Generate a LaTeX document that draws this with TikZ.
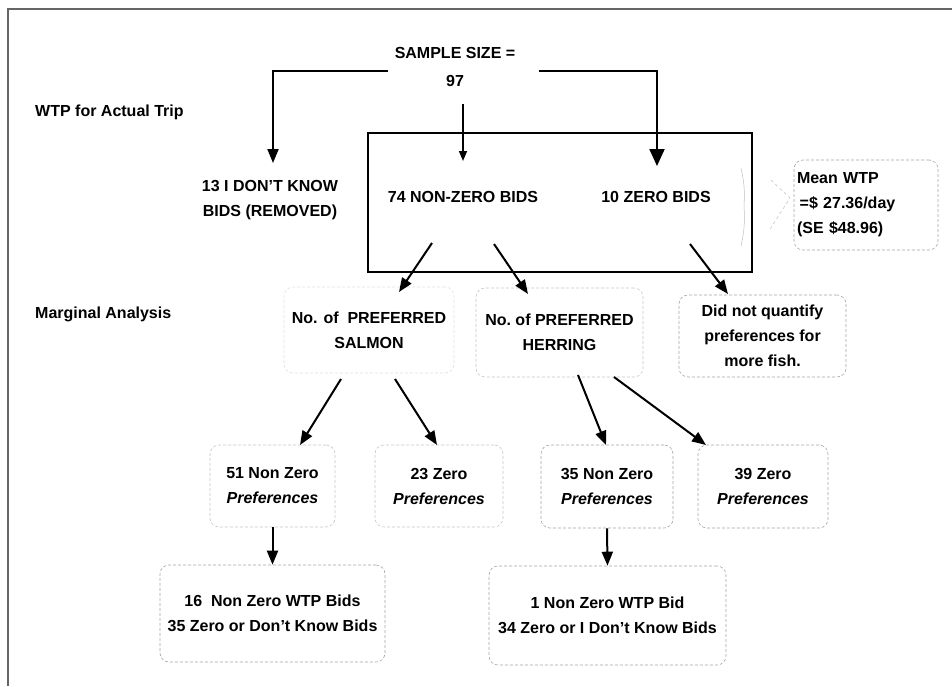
\documentclass[tikz,border=0pt]{standalone}
\usepackage{fontspec}
\setmainfont{Liberation Sans}
\usetikzlibrary{arrows.meta}
\begin{document}
\begin{tikzpicture}[x=1pt,y=-1pt,
  lbl/.style={font=\bfseries\fontsize{16}{25}\selectfont, align=center, inner sep=0pt},
  fbox/.style={draw=black!35, densely dashed, rounded corners=9pt, line width=0.6pt, font=\bfseries\fontsize{16}{25}\selectfont, align=center, inner sep=0pt},
  arr/.style={line width=2pt, -{Triangle[length=14pt,width=11pt]}},
  faint/.style={draw=black!25, line width=0.5pt}]
\useasboundingbox (0,0) rectangle (952,686);
\fill[white] (0,0) rectangle (952,686);
% frame
\draw[black!60, line width=1.1pt] (8,686) -- (8,9) -- (952,9);

% labels on the left
\node[lbl, anchor=west] (wtp) at (35,112) {WTP for Actual Trip};
\node[lbl, anchor=west] (marg) at (35,314) {Marginal Analysis};

% top
\node[lbl, font=\bfseries\fontsize{16}{28}\selectfont] (samp) at (455,67) {SAMPLE SIZE =\\97};
\node[draw, line width=2pt, minimum width=384pt, minimum height=139pt, inner sep=0pt] (big) at (560,202.5) {};
\node[lbl] (dk) at (270,200) {13 I DON'T KNOW\\BIDS (REMOVED)};
\node[lbl] (nz74) at (463,197) {74 NON-ZERO BIDS};
\node[lbl] (z10) at (656,197) {10 ZERO BIDS};
\node[fbox, minimum width=144pt, minimum height=90pt, text width=138pt, align=left] (mean) at (866,205) {Mean WTP\\\,=\$ 27.36/day\\(SE \$48.96)};

% faint callout bits
\draw[faint] (741,168) to[bend left=8] (744,206) to[bend left=8] (741,246);
\draw[faint, dashed] (771,180) -- (790,198) -- (770,229);

% second level
\node[fbox, draw=black!12, minimum width=170pt, minimum height=86pt] (sal) at (369,330) {No. of\ \ PREFERRED\\SALMON};
\node[fbox, draw=black!22, minimum width=167pt, minimum height=89pt] (her) at (559.5,332.5) {No.\ of PREFERRED\\HERRING};
\node[fbox, minimum width=167pt, minimum height=82pt] (dnq) at (762.5,336) {Did not quantify\\preferences for\\more fish.};

% third level
\node[fbox, draw=black!22, minimum width=125pt, minimum height=82pt] (n51) at (272.5,486) {51 Non Zero\\\textit{Preferences}};
\node[fbox, draw=black!22, minimum width=128pt, minimum height=82pt] (z23) at (439,486) {23 Zero\\\textit{Preferences}};
\node[fbox, minimum width=132pt, minimum height=83pt] (n35) at (607,486.5) {35 Non Zero\\\textit{Preferences}};
\node[fbox, minimum width=130pt, minimum height=83pt] (z39) at (763,486.5) {39 Zero\\\textit{Preferences}};

% bottom
\node[fbox, minimum width=225pt, minimum height=97pt] (b16) at (272.5,613.5) {16\ \ Non Zero WTP Bids\\35 Zero or Don't Know Bids};
\node[fbox, minimum width=237pt, minimum height=99pt] (b1) at (607.5,615.5) {1 Non Zero WTP Bid\\34 Zero or I Don't Know Bids};

% arrow end coordinates
\coordinate (sL) at (388,71);
\coordinate (sR) at (539,71);
\coordinate (dkT) at (273,163);
\coordinate (z10T) at (657,166);
\coordinate (sM) at (463,104);
\coordinate (nzT) at (463,161);
\coordinate (a1s) at (432,243);
\coordinate (a1e) at (399,292);
\coordinate (a2s) at (494,244);
\coordinate (a2e) at (528,294);
\coordinate (a3s) at (690,244);
\coordinate (a3e) at (728,294);
\coordinate (a4s) at (341,379);
\coordinate (a4e) at (300,445);
\coordinate (a5s) at (395,379);
\coordinate (a5e) at (437,445);
\coordinate (a6s) at (578,375);
\coordinate (a6e) at (606,445);
\coordinate (a7s) at (614,377);
\coordinate (a7e) at (706,445);

% arrows
\draw[arr] (sL) -| (dkT);
\draw[line width=2pt, -{Triangle[length=17pt,width=15pt]}] (sR) -| (z10T);
\draw[line width=1.6pt, -{Triangle[length=10pt,width=8pt]}] (sM) -- (nzT);
\draw[arr] (a1s) -- (a1e);
\draw[arr] (a2s) -- (a2e);
\draw[arr] (a3s) -- (a3e);
\draw[arr] (a4s) -- (a4e);
\draw[arr] (a5s) -- (a5e);
\draw[arr] (a6s) -- (a6e);
\draw[arr] (a7s) -- (a7e);
\draw[arr] (n51.south) -- (b16.north);
\draw[arr] (n35.south) -- (b1.north);
\end{tikzpicture}
\end{document}
